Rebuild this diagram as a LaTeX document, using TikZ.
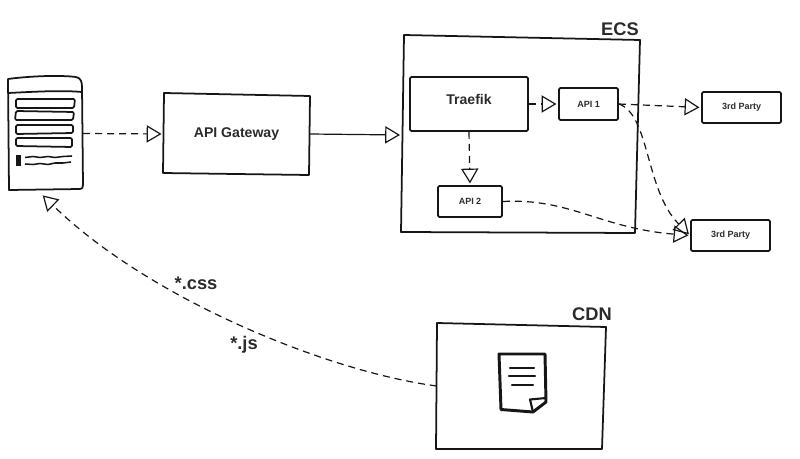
\documentclass[tikz,border=0pt]{standalone}
\usepackage{fontspec}
\setmainfont{Liberation Sans}
\usetikzlibrary{arrows.meta, positioning}
\definecolor{inkline}{HTML}{161616}
\definecolor{inktext}{HTML}{2B2B2B}
\tikzset{
  skbox/.style   = {draw=inkline, line width=1.25pt, rounded corners=1pt,
                     inner sep=0pt, font=\bfseries\fontsize{6.4}{8}\selectfont, text=inktext},
  skbig/.style   = {inner sep=0pt, font=\bfseries\fontsize{10}{12}\selectfont, text=inktext},
  skedge/.style  = {draw=inkline, line width=1.25pt, line join=round},
  skttl/.style   = {inner sep=0pt, font=\bfseries\fontsize{13}{15}\selectfont, text=inktext},
  skflow/.style  = {draw=inkline, line width=0.85pt, shorten >=1.2pt,
                     -{Triangle[open, length=3.7mm, width=4.3mm]}},
  skdash/.style  = {skflow, dash pattern=on 5pt off 3.5pt},
  skicon/.style  = {draw=inkline, line width=2.1pt, line cap=round, line join=round},
}
\begin{document}
\begin{tikzpicture}[x=0.025cm, y=-0.025cm]
  \useasboundingbox (0,0) rectangle (800,459);
  % browser page
  \node[minimum width=1.87cm, minimum height=2.82cm, inner sep=0pt] (page) at (45.5,133.5) {};
  \draw[skedge] (9,190) -- (8,79) .. controls (30,76) and (60,75) .. (76,77)
     .. controls (81,78) and (82,82) .. (82,87) -- (83,185) .. controls (83,188) and (82,189) .. (80,189) -- cycle;
  \draw[skedge] (8,93) .. controls (30,92) and (60,90) .. (82,92);
  \draw[skedge, rounded corners=1pt] (16,99) -- (75,99) -- (74,108) -- (16,108) -- cycle;
  \draw[skedge, rounded corners=1pt] (16,111) -- (74,112) -- (73,120) -- (15,120) -- cycle;
  \draw[skedge, rounded corners=1pt] (16,125) -- (73,125) -- (73,133) -- (16,134) -- cycle;
  \draw[skedge, rounded corners=1pt] (16,138) -- (72,138) -- (72,147) -- (16,146) -- cycle;
  \fill[inkline] (16,155) rectangle (21,166);
  \draw[inkline, line width=1.1pt] (25,157.5) -- (33,156.5) -- (40,157.5) -- (48,156.5) -- (55,157.5) -- (63,156.5) -- (72,156);
  \draw[inkline, line width=1.1pt] (25,164) -- (33,164.5) -- (40,163.5) -- (48,164.5) -- (55,163) -- (63,163) -- (71,162);

  % api gateway
  \node[skbig, minimum width=3.65cm, minimum height=2cm] (gw) at (236.5,134) {API Gateway};
  \draw[skedge] (164,93) -- (310,96) -- (309,175) -- (163,173) -- cycle;

  % ecs
  \node[minimum width=5.9cm, minimum height=4.9cm, inner sep=0pt] (ecs) at (520,135) {};
  \draw[skedge] (404,35) -- (640,40) -- (635,233) -- (401,232) -- cycle;
  \node[skttl] (ecsttl) at (620,29) {ECS};

  \node[skbox, skbig, draw=inkline, line width=1.25pt, minimum width=2.95cm, minimum height=1.35cm,
        text depth=7pt] (traefik) at (469,104) {Traefik};
  \node[skbox, minimum width=1.475cm, minimum height=0.8cm] (api1) at (588.5,104) {API 1};
  \node[skbox, minimum width=1.6cm, minimum height=0.775cm] (api2) at (470,201.5) {API 2};

  \node[skbox, minimum width=1.975cm, minimum height=0.775cm] (partya) at (741.5,107.5) {3rd Party};
  \node[skbox, minimum width=1.975cm, minimum height=0.775cm] (partyb) at (730.5,235.5) {3rd Party};

  % cdn
  \node[minimum width=4.2cm, minimum height=3.15cm, inner sep=0pt] (cdn) at (521,386) {};
  \draw[skedge] (437,323) -- (606,327) -- (602,449) -- (436,449) -- cycle;
  \node[skttl] (cdnttl) at (592,314) {CDN};

  % file icon
  \draw[skicon] (533,412) -- (501,409.5) -- (499,354) -- (545,354) -- (546,402) -- cycle;
  \draw[skicon, line width=1.5pt] (546,398) -- (530,399.5) -- (533,412);
  \draw[skicon, line width=1.7pt] (510,368) -- (534,368);
  \draw[skicon, line width=1.7pt] (509,376) -- (535,376);
  \draw[skicon, line width=1.7pt] (512,385) -- (533,385);

  % connectors
  \draw[skdash] (page.east) -- (gw.west);
  \draw[skflow] (gw.east) -- (ecs.west);
  \draw[skdash] (traefik.east) -- (api1.west);
  \draw[skdash] (traefik.south) -- (api2.north);
  \draw[skdash] (api1.east) -- (partya.west);
  \draw[skdash] (api1.east) .. controls (650,115) and (645,190) .. (partyb.west);
  \draw[skdash] (api2.east) .. controls (570,198) and (600,228) .. (partyb.west);
  \draw[skdash] (cdn.west) .. controls (330,372) and (150,300) .. ([xshift=-0.1cm, yshift=-0.1cm]page.south);

  \node[skttl] (css) at (196,283) {*.css};
  \node[skttl] (js) at (244,345) {*.js};
\end{tikzpicture}
\end{document}
